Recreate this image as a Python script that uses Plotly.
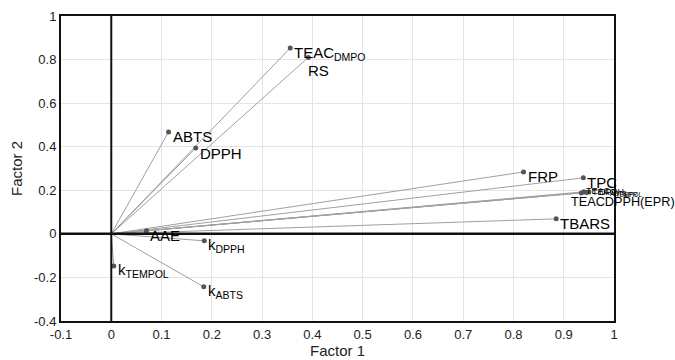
import plotly.graph_objects as go

labels = ["TEAC<sub>DMPO</sub>", "RS", "ABTS", "DPPH", "FRP", "TPC",
          "TEAC<sub>ABTS</sub>", "TEAC<sub>TEMPOL</sub>", "DPPH<sub>EPR</sub>", "TEACDPPH(EPR)",
          "TBARS", "AAE", "k<sub>DPPH</sub>", "k<sub>TEMPOL</sub>", "k<sub>ABTS</sub>"]
factor1 = [0.356, 0.392, 0.114, 0.168, 0.820, 0.939,
           0.940, 0.945, 0.950, 0.935,
           0.885, 0.070, 0.185, 0.005, 0.184]
factor2 = [0.853, 0.810, 0.468, 0.394, 0.284, 0.257,
           0.193, 0.190, 0.192, 0.188,
           0.069, 0.014, -0.032, -0.147, -0.243]

x_ticks = [-0.1, 0, 0.1, 0.2, 0.3, 0.4, 0.5, 0.6, 0.7, 0.8, 0.9, 1]
y_ticks = [-0.4, -0.2, 0, 0.2, 0.4, 0.6, 0.8, 1]

# label styling: (font size, x shift, y shift)
style = {
    "RS": (15, -2, -13),
    "TEAC<sub>ABTS</sub>": (9, 0, 0),
    "TEAC<sub>TEMPOL</sub>": (9, 4, 0),
    "DPPH<sub>EPR</sub>": (9, 8, 0),
    "TEACDPPH(EPR)": (12.7, -12, -9),
}

fig = go.Figure()
for x, y in zip(factor1, factor2):
    fig.add_trace(go.Scatter(x=[0, x], y=[0, y], mode="lines",
                             line=dict(color="#a0a0a0", width=1),
                             hoverinfo="skip", showlegend=False))
fig.add_trace(go.Scatter(x=factor1, y=factor2, mode="markers",
                         marker=dict(color="#555555", size=5),
                         showlegend=False))

for lab, x, y in zip(labels, factor1, factor2):
    size, xs, ys = style.get(lab, (15, 2, -5))
    fig.add_annotation(x=x, y=y, text=lab, showarrow=False,
                       xanchor="left", yanchor="middle",
                       xshift=xs, yshift=ys,
                       font=dict(family="Liberation Sans, Arial", size=size, color="#000000"))

# thick zero axes
fig.add_shape(type="line", x0=0, x1=0, y0=-0.4, y1=1, xref="x", yref="y",
              line=dict(color="#111111", width=2))
fig.add_shape(type="line", x0=-0.1, x1=1, y0=0, y1=0, xref="x", yref="y",
              line=dict(color="#111111", width=2.5))

fig.update_xaxes(range=[-0.1, 1], tickvals=x_ticks,
                 ticktext=[str(v) for v in x_ticks],
                 showgrid=True, gridcolor="#e4e4e4", gridwidth=1,
                 zeroline=False, showline=True, linecolor="#111111", linewidth=2,
                 mirror=True, ticks="", automargin=False,
                 title=dict(text="Factor 1", font=dict(size=15, color="#222222"), standoff=2),
                 tickfont=dict(size=13, color="#222222"))
fig.update_yaxes(range=[-0.4, 1], tickvals=y_ticks,
                 ticktext=[str(v) for v in y_ticks],
                 showgrid=True, gridcolor="#e4e4e4", gridwidth=1,
                 zeroline=False, showline=True, linecolor="#111111", linewidth=2,
                 mirror=True, ticks="", automargin=False,
                 title=dict(text="Factor 2", font=dict(size=15, color="#222222"), standoff=8),
                 tickfont=dict(size=13, color="#222222"))

fig.update_layout(width=675, height=360,
                  margin=dict(l=61, r=61, t=16, b=39),
                  plot_bgcolor="white", paper_bgcolor="white",
                  font=dict(family="Liberation Sans, Arial"))

fig.write_html("out.html")
